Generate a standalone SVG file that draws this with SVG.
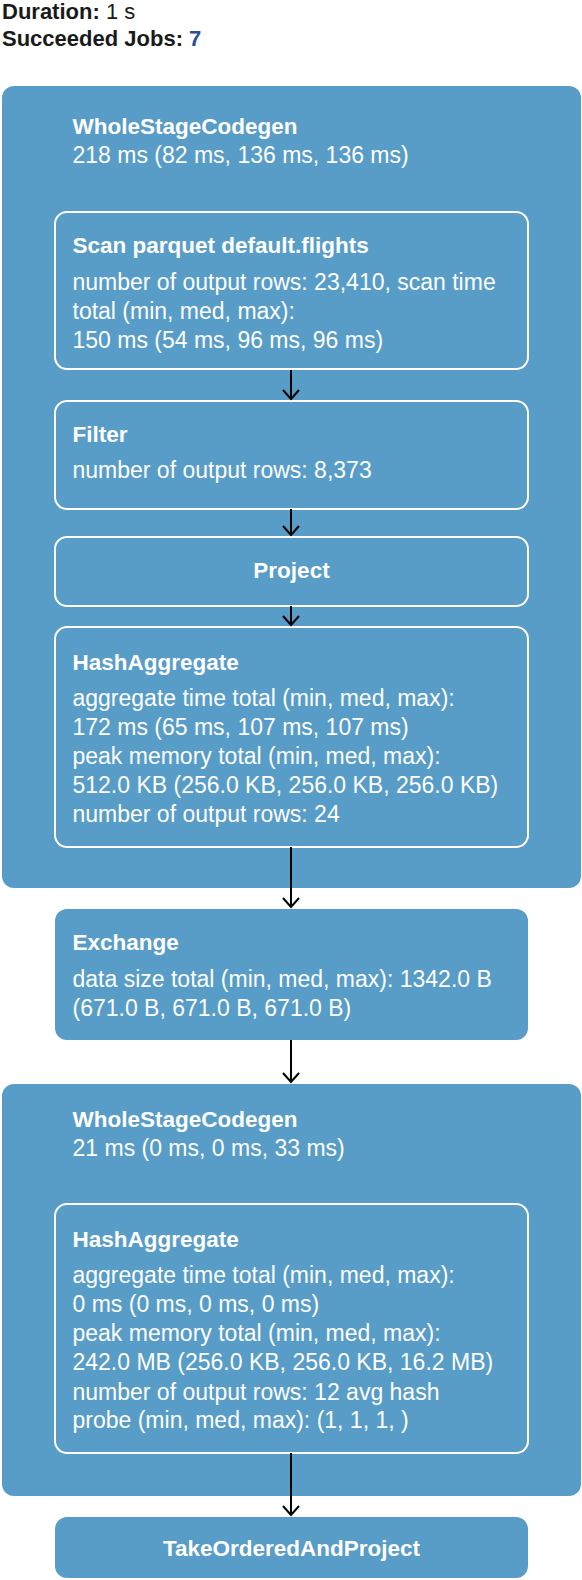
<svg xmlns="http://www.w3.org/2000/svg" width="582" height="1580" viewBox="0 0 582 1580">
<style>
  text { font-family: "Liberation Sans", Arial, sans-serif; }
  .hdr { font-size: 22px; fill: #1a1a1a; font-weight: bold; }
  .hdr .v { font-weight: normal; }
  .hdr .job { fill: #2b4d9a; }
  .cluster { fill: #589cc8; }
  .node { fill: #589cc8; stroke: #ffffff; stroke-width: 2; }
  .plain { fill: #589cc8; }
  .t { font-size: 22.5px; fill: #ffffff; font-weight: bold; }
  .b { font-size: 23px; fill: #ffffff; }
  .c { text-anchor: middle; }
  .edge { stroke: #000; stroke-width: 2; fill: none; marker-end: url(#arr); }
</style>
<defs>
  <marker id="arr" viewBox="0 0 12 18" refX="10" refY="9" markerWidth="12" markerHeight="18" markerUnits="userSpaceOnUse" orient="auto">
    <path d="M1,1 L10,9 L1,17" fill="none" stroke="#000" stroke-width="2"/>
  </marker>
</defs>
<rect width="582" height="1580" fill="#ffffff"/>
<g id="header">
  <text class="hdr" x="2" y="19">Duration:<tspan class="v"> 1 s</tspan></text>
  <text class="hdr" x="2" y="46">Succeeded Jobs: <tspan class="job">7</tspan></text>
</g>
<g id="wsc1">
  <rect class="cluster" x="2" y="86" width="579" height="802" rx="12"/>
  <text class="t" x="72.5" y="134">WholeStageCodegen</text>
  <text class="b" x="72.5" y="163">218 ms (82 ms, 136 ms, 136 ms)</text>
</g>
<g id="scan">
  <rect class="node" x="55" y="212" width="473" height="157" rx="12"/>
  <text class="t" x="72.5" y="253">Scan parquet default.flights</text>
  <text class="b" x="72.5" y="290">number of output rows: 23,410, scan time</text>
  <text class="b" x="72.5" y="319">total (min, med, max):</text>
  <text class="b" x="72.5" y="348">150 ms (54 ms, 96 ms, 96 ms)</text>
</g>
<g id="filter">
  <rect class="node" x="55" y="401" width="473" height="108" rx="12"/>
  <text class="t" x="72.5" y="442">Filter</text>
  <text class="b" x="72.5" y="478">number of output rows: 8,373</text>
</g>
<g id="project">
  <rect class="node" x="55" y="537" width="473" height="69" rx="12"/>
  <text class="t c" x="291.5" y="578">Project</text>
</g>
<g id="hashagg1">
  <rect class="node" x="55" y="627" width="473" height="220" rx="12"/>
  <text class="t" x="72.5" y="670">HashAggregate</text>
  <text class="b" x="72.5" y="706">aggregate time total (min, med, max):</text>
  <text class="b" x="72.5" y="735">172 ms (65 ms, 107 ms, 107 ms)</text>
  <text class="b" x="72.5" y="764">peak memory total (min, med, max):</text>
  <text class="b" x="72.5" y="793">512.0 KB (256.0 KB, 256.0 KB, 256.0 KB)</text>
  <text class="b" x="72.5" y="822">number of output rows: 24</text>
</g>
<g id="exchange">
  <rect class="plain" x="55" y="909" width="473" height="131" rx="12"/>
  <text class="t" x="72.5" y="950">Exchange</text>
  <text class="b" x="72.5" y="987">data size total (min, med, max): 1342.0 B</text>
  <text class="b" x="72.5" y="1016">(671.0 B, 671.0 B, 671.0 B)</text>
</g>
<g id="wsc2">
  <rect class="cluster" x="2" y="1084" width="579" height="412" rx="12"/>
  <text class="t" x="72.5" y="1127">WholeStageCodegen</text>
  <text class="b" x="72.5" y="1156">21 ms (0 ms, 0 ms, 33 ms)</text>
</g>
<g id="hashagg2">
  <rect class="node" x="55" y="1204" width="473" height="249" rx="12"/>
  <text class="t" x="72.5" y="1247">HashAggregate</text>
  <text class="b" x="72.5" y="1283">aggregate time total (min, med, max):</text>
  <text class="b" x="72.5" y="1312">0 ms (0 ms, 0 ms, 0 ms)</text>
  <text class="b" x="72.5" y="1341">peak memory total (min, med, max):</text>
  <text class="b" x="72.5" y="1370">242.0 MB (256.0 KB, 256.0 KB, 16.2 MB)</text>
  <text class="b" x="72.5" y="1400">number of output rows: 12 avg hash</text>
  <text class="b" x="72.5" y="1428">probe (min, med, max): (1, 1, 1, )</text>
</g>
<g id="takeordered">
  <rect class="plain" x="55" y="1517" width="473" height="61" rx="12"/>
  <text class="t c" x="291.5" y="1556">TakeOrderedAndProject</text>
</g>
<g id="edges">
  <line class="edge" x1="291" y1="370" x2="291" y2="399"/>
  <line class="edge" x1="291" y1="509" x2="291" y2="535"/>
  <line class="edge" x1="291" y1="606" x2="291" y2="625"/>
  <line class="edge" x1="291" y1="847" x2="291" y2="907"/>
  <line class="edge" x1="291" y1="1040" x2="291" y2="1082"/>
  <line class="edge" x1="291" y1="1453" x2="291" y2="1515"/>
</g>
</svg>
